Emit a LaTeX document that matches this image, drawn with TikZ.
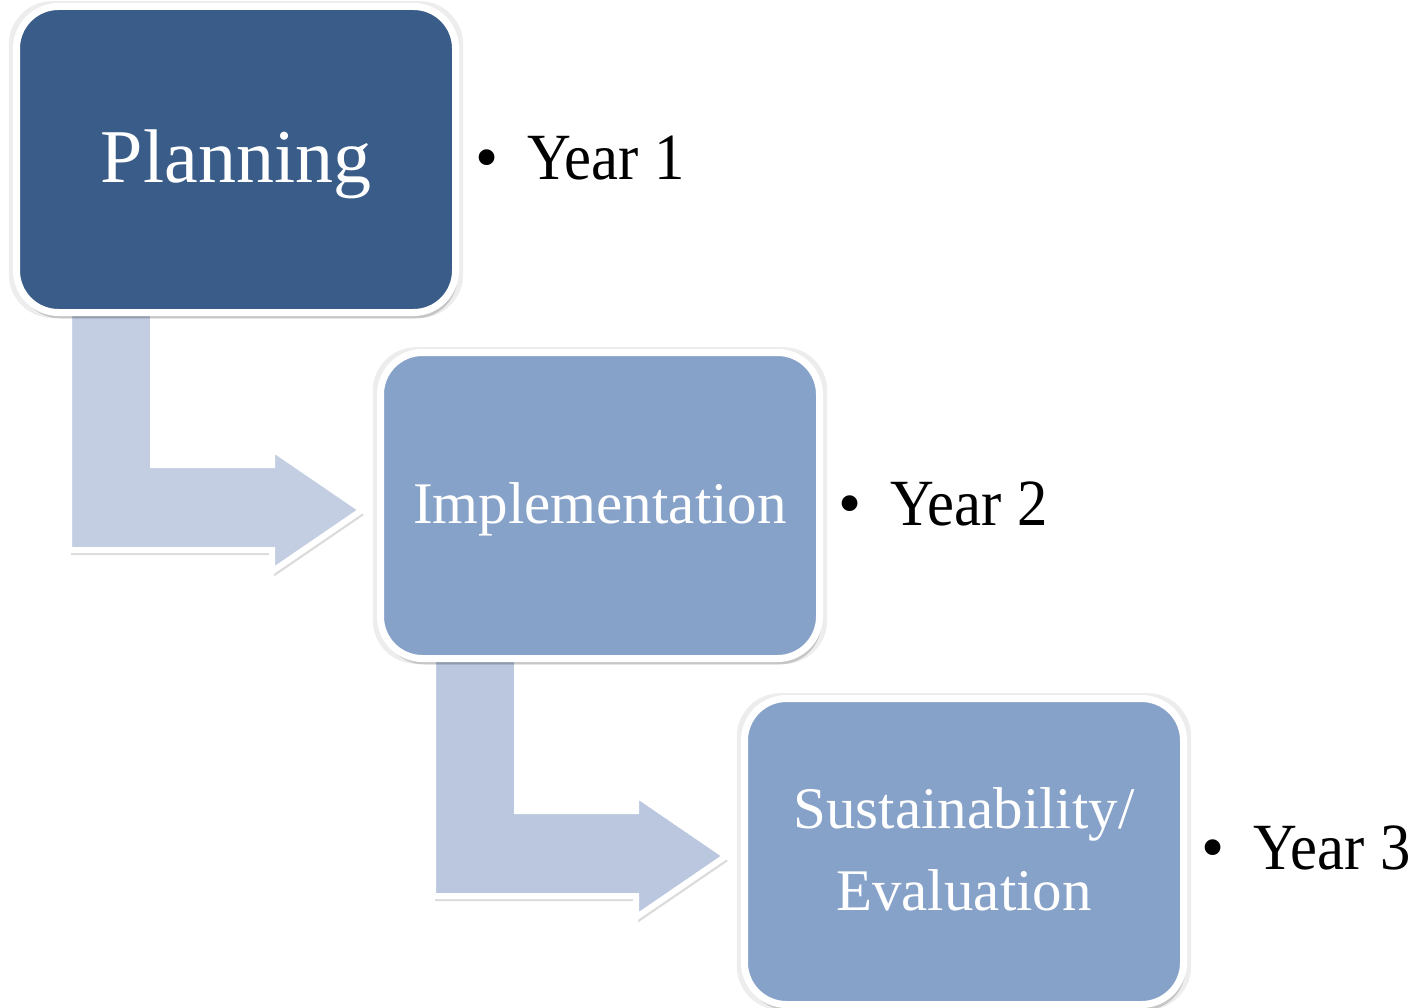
\documentclass[tikz,border=0pt]{standalone}
\usepackage{fontspec}
\setmainfont{Liberation Serif}
\usetikzlibrary{calc,shadows}
\pgfdeclarelayer{background}
\pgfdeclarelayer{canvas}
\pgfsetlayers{canvas,background,main}
\definecolor{plancol}{HTML}{3A5C89}
\definecolor{boxcol}{HTML}{87A2C9}
\definecolor{arrowA}{HTML}{C3CEE2}
\definecolor{arrowB}{HTML}{BAC7DF}
\begin{document}
\begin{tikzpicture}[x=1pt,y=-1pt,
  stagebox/.style={draw=white, line width=7pt, rounded corners=42pt,
    minimum width=439pt, minimum height=306pt, inner sep=0pt, outer sep=0pt,
    drop shadow={shadow xshift=0pt, shadow yshift=0pt, shadow scale=1.035, opacity=0.07, fill=black},
    drop shadow={shadow xshift=2pt, shadow yshift=-6pt, opacity=0.16, fill=black}},
  bentarrow/.style={draw=white, line width=6pt, line join=miter,
    drop shadow={shadow xshift=2pt, shadow yshift=-5pt, opacity=0.14, fill=black}},
  stagetxt/.style={text=white, font=\fontsize{59}{82}\selectfont, align=center, inner sep=0pt},
  yeartxt/.style={text=black, font=\fontsize{66}{70}\selectfont, inner sep=0pt}]
\begin{pgfonlayer}{canvas}
\path[use as bounding box, fill=white] (0,0) rectangle (1420,1008);
\end{pgfonlayer}

% stage boxes
\node[stagebox, fill=plancol] (plan) at (236,159.5) {};
\node[stagebox, fill=boxcol] (impl) at (600,505.5) {};
\node[stagebox, fill=boxcol] (sust) at (964,851.5) {};

% bent arrows
\begin{pgfonlayer}{background}
\draw[bentarrow, fill=arrowA]
  ($(plan.south west)+(52.5,-2.5)$) -- ($(plan.south west)+(52.5,237.5)$)
  -- ($(plan.south west)+(255.5,237.5)$) -- ($(plan.south west)+(255.5,259)$)
  -- ($(impl.west)+(-18.5,4.5)$)
  -- ($(plan.south west)+(255.5,136)$) -- ($(plan.south west)+(255.5,152.5)$)
  -- ($(plan.south west)+(136.5,152.5)$) -- ($(plan.south west)+(136.5,-2.5)$) -- cycle;
\draw[bentarrow, fill=arrowB]
  ($(impl.south west)+(52.5,-2.5)$) -- ($(impl.south west)+(52.5,237.5)$)
  -- ($(impl.south west)+(255.5,237.5)$) -- ($(impl.south west)+(255.5,259)$)
  -- ($(sust.west)+(-18.5,4.5)$)
  -- ($(impl.south west)+(255.5,136)$) -- ($(impl.south west)+(255.5,152.5)$)
  -- ($(impl.south west)+(136.5,152.5)$) -- ($(impl.south west)+(136.5,-2.5)$) -- cycle;
\end{pgfonlayer}

% stage texts
\node[stagetxt, anchor=base, font=\fontsize{76}{90}\selectfont] (plantxt) at ($(plan.center)+(0,23.5)$) {Planning};
\node[stagetxt, anchor=base] (impltxt) at ($(impl.center)+(0,17.5)$) {Implementation};
\node[stagetxt, anchor=base] (susttxt) at ($(sust.center)+(0,58.5)$) {Sustainability/\\Evaluation};

% year bullets
\node[yeartxt, anchor=base] (b1) at (487,180) {•};
\node[yeartxt, anchor=base west] (y1) at (527,180) {\scalebox{0.92}[1]{Year 1}};
\node[yeartxt, anchor=base] (b2) at (850,525) {•};
\node[yeartxt, anchor=base west] (y2) at (890,525) {\scalebox{0.92}[1]{Year 2}};
\node[yeartxt, anchor=base] (b3) at (1213,869) {•};
\node[yeartxt, anchor=base west] (y3) at (1253,869) {\scalebox{0.92}[1]{Year 3}};
\end{tikzpicture}
\end{document}
